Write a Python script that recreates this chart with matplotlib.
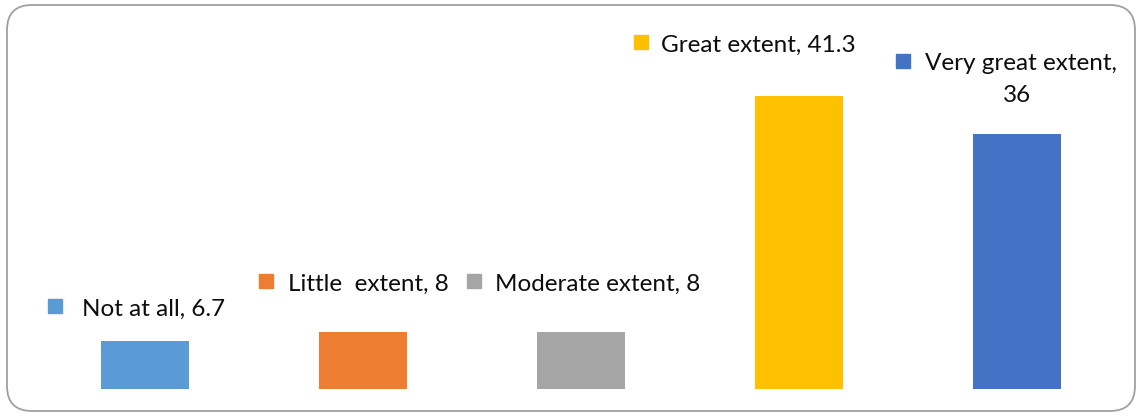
import matplotlib.pyplot as plt
from matplotlib.patches import FancyBboxPatch

# Survey responses (percent)
categories = ['Not at all', 'Little  extent', 'Moderate extent', 'Great extent', 'Very great extent']
values = [6.7, 8, 8, 41.3, 36]
colors = ['#5B9BD5', '#ED7D31', '#A5A5A5', '#FFC000', '#4472C4']

# label layout: (square dx, text dx, square dy, text baseline dy) relative to each bar
label_layout = [
    (-0.415, -0.289, 5.0, 3.6),
    (-0.443, -0.344, 7.3, 5.8),
    (-0.493, -0.394, 7.3, 5.8),
    (-0.725, -0.633, 7.6, 6.2),
    (-0.521, -0.422, 10.2, 9.0),
]

W, H = 1142, 416
fig = plt.figure(figsize=(W / 100, H / 100), dpi=100)

# rounded chart border, drawn in pixel coordinates
bg = fig.add_axes([0, 0, 1, 1])
bg.set_xlim(0, W)
bg.set_ylim(H, 0)
bg.axis('off')
bg.add_patch(FancyBboxPatch((7 + 25, 5 + 25), W - 14 - 50, H - 10 - 50,
                            boxstyle='round,pad=25', fc='white', ec='#A0A0A0', lw=1.3))

# bars: category spacing 218px, first center at x=145, baseline at y=389
px_unit = 7.09
ax = fig.add_axes([36 / W, (H - 389) / H, 1090 / W, 50 * px_unit / H])
ax.set_xlim(-0.5, 4.5)
ax.set_ylim(0, 50)
ax.axis('off')
ax.patch.set_alpha(0)

x = range(len(categories))
ax.bar(x, values, width=0.404, color=colors)

font = dict(family=['Lato', 'DejaVu Sans'], fontsize=17.5, color='#0d0d0d')
for i, (cat, val, col) in enumerate(zip(categories, values, colors)):
    sq_dx, tx_dx, sq_dy, tx_dy = label_layout[i]
    ax.plot(i + sq_dx, val + sq_dy, marker='s', ms=10.5, color=col, clip_on=False)
    text = f'{cat}, {val:g}'
    if i == len(categories) - 1:
        ax.text(i + tx_dx, val + tx_dy, f'{cat},', ha='left', va='baseline', **font)
        ax.text(i, val + tx_dy - 4.5, f'{val:g}', ha='center', va='baseline', **font)
    else:
        ax.text(i + tx_dx, val + tx_dy, text, ha='left', va='baseline', **font)

fig.savefig('out.png', dpi=100)
